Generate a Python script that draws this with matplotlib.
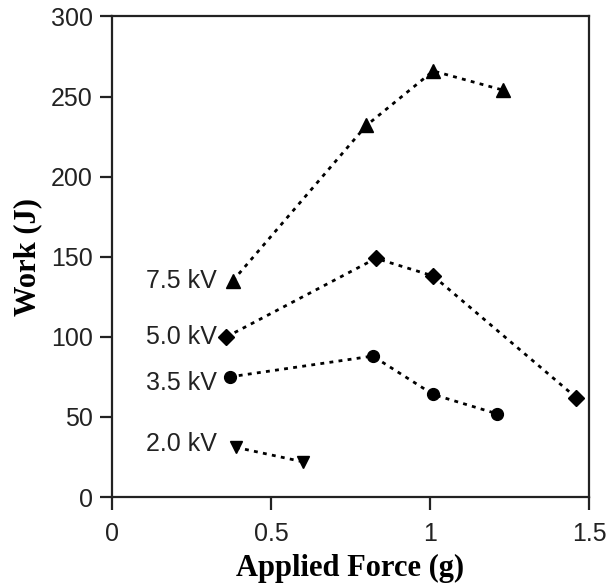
#!/usr/bin/env python3
"""Work vs applied force for four drive voltages."""

import matplotlib
matplotlib.use("Agg")
import matplotlib.pyplot as plt

# Data
force_75 = [0.38, 0.80, 1.01, 1.23]
work_75 = [135, 232, 266, 254]

force_50 = [0.36, 0.83, 1.01, 1.46]
work_50 = [100, 149, 138, 62]

force_35 = [0.37, 0.82, 1.01, 1.21]
work_35 = [75, 88, 64, 52]

force_20 = [0.39, 0.60]
work_20 = [31, 22]

series_labels = ["7.5 kV", "5.0 kV", "3.5 kV", "2.0 kV"]
label_y = [135, 100, 71, 33]

x_ticks = [0, 0.5, 1, 1.5]
x_tick_labels = ["0", "0.5", "1", "1.5"]
y_ticks = [0, 50, 100, 150, 200, 250, 300]

fig = plt.figure(figsize=(6.08, 5.83), dpi=100)
ax = fig.add_axes([0.1842, 0.1475, 0.7846, 0.8242])

line_kw = dict(color="black", linestyle=(0, (1.4, 1.9)), linewidth=2.0)
ax.plot(force_75, work_75, marker="^", markersize=9.5, **line_kw)
ax.plot(force_50, work_50, marker="D", markersize=8, **line_kw)
ax.plot(force_35, work_35, marker="o", markersize=8.5, **line_kw)
ax.plot(force_20, work_20, marker="v", markersize=8.5, **line_kw)

for text, y in zip(series_labels, label_y):
    ax.text(0.33, y, text, ha="right", va="center", fontsize=18,
            family="Liberation Sans", color="#222222")

ax.set_xlim(0, 1.5)
ax.set_ylim(0, 300)
ax.set_xticks(x_ticks)
ax.set_xticklabels(x_tick_labels)
ax.set_yticks(y_ticks)

for spine in ax.spines.values():
    spine.set_linewidth(1.6)
    spine.set_color("#222222")

ax.tick_params(direction="out", length=9, width=1.6, color="#222222",
               labelsize=18, labelcolor="#222222")
ax.tick_params(axis="x", pad=9)
ax.tick_params(axis="y", pad=5)
for lbl in ax.get_xticklabels() + ax.get_yticklabels():
    lbl.set_family("Liberation Sans")

ax.set_xlabel("Applied Force (g)", family="Liberation Serif",
              fontweight="bold", fontsize=22, labelpad=6)
ax.set_ylabel("Work (J)", family="Liberation Serif",
              fontweight="bold", fontsize=22, labelpad=6)

fig.savefig("out.png", dpi=100)
